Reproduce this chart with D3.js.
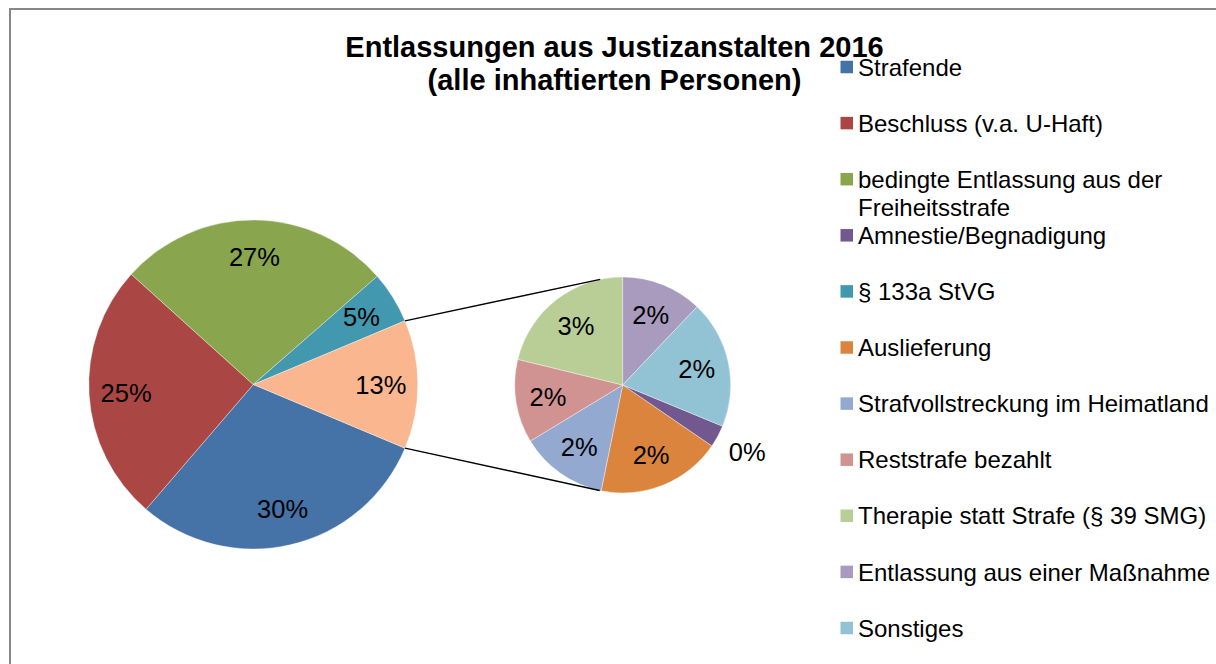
<!DOCTYPE html>
<html>
<head>
<meta charset="utf-8">
<script src="https://cdn.jsdelivr.net/npm/d3@7"></script>
<style>
  html, body { margin: 0; padding: 0; background: #fff; }
  svg { display: block; font-family: "Liberation Sans", Arial, Helvetica, sans-serif; }
</style>
</head>
<body>
<svg id="chart" width="1216" height="664"></svg>
<script>
// Releases from prisons 2016, shares in percent (all inmates)
const categories = [
  "Strafende",
  "Beschluss (v.a. U-Haft)",
  "bedingte Entlassung aus der Freiheitsstrafe",
  "Amnestie/Begnadigung",
  "§ 133a StVG",
  "Auslieferung",
  "Strafvollstreckung im Heimatland",
  "Reststrafe bezahlt",
  "Therapie statt Strafe (§ 39 SMG)",
  "Entlassung aus einer Maßnahme",
  "Sonstiges"
];
const shares = [30.0, 25.4, 26.9, 0.42, 5.1, 2.36, 1.66, 1.58, 2.68, 1.53, 2.42];
// which categories are broken out into the secondary pie
const inSecondPlot = [false, false, false, true, false, true, true, true, true, true, true];
const sliceColors = [
  "#4572A7", "#AA4643", "#89A54E", "#71588F", "#4198AF", "#DB843D",
  "#93A9CF", "#D19392", "#B9CD96", "#A99BBD", "#92C3D4"
];
const otherColor = "#F9B68F";
const titleLines = ["Entlassungen aus Justizanstalten 2016", "(alle inhaftierten Personen)"];

const svg = d3.select("#chart");
const total = d3.sum(shares);
const pctLabel = v => Math.round(v / total * 100) + "%";

const items = categories.map((c, i) => ({ name: c, value: shares[i], color: sliceColors[i], second: inSecondPlot[i] }));
const secondItems = items.filter(d => d.second);
const otherValue = d3.sum(secondItems, d => d.value);
const primaryItems = items.filter(d => !d.second).concat([{ name: "Other", value: otherValue, color: otherColor }]);

// chart frame
svg.append("rect")
  .attr("x", 10).attr("y", 9)
  .attr("width", 1230).attr("height", 680)
  .attr("fill", "#fff").attr("stroke", "#878787").attr("stroke-width", 2);

// geometry
const main = { cx: 253.3, cy: 384.5, r: 164.5 };
const sub = { cx: 622.7, cy: 385, r: 108 };

// primary pie: the combined slice sits centred on the right side
const otherAngle = 2 * Math.PI * otherValue / total;
const mainStart = Math.PI / 2 + otherAngle / 2;
const mainPie = d3.pie().sort(null).value(d => d.value)
  .startAngle(mainStart).endAngle(mainStart + 2 * Math.PI);
const mainArcs = mainPie(primaryItems);

// secondary pie: the first five broken-out slices end at twelve o'clock
const firstFive = d3.sum(secondItems.slice(0, 5), d => d.value);
const subStart = 2 * Math.PI - 2 * Math.PI * firstFive / otherValue;
const subPie = d3.pie().sort(null).value(d => d.value)
  .startAngle(subStart).endAngle(subStart + 2 * Math.PI);
const subArcs = subPie(secondItems);

const mainArc = d3.arc().innerRadius(0).outerRadius(main.r);
const subArc = d3.arc().innerRadius(0).outerRadius(sub.r);

const gMain = svg.append("g").attr("transform", `translate(${main.cx},${main.cy})`);
gMain.selectAll("path").data(mainArcs).join("path")
  .attr("d", mainArc)
  .attr("fill", d => d.data.color)
  .attr("stroke", "#fff").attr("stroke-opacity", 0.6).attr("stroke-width", 0.6);

const gSub = svg.append("g").attr("transform", `translate(${sub.cx},${sub.cy})`);
gSub.selectAll("path").data(subArcs).join("path")
  .attr("d", subArc)
  .attr("fill", d => d.data.color)
  .attr("stroke", "#fff").attr("stroke-opacity", 0.6).attr("stroke-width", 0.6);

// connector lines: from the edges of the combined slice, tangent to the secondary pie
function pointOn(c, a) { return [c.cx + c.r * Math.sin(a), c.cy - c.r * Math.cos(a)]; }
function tangentPoint(p, c, upper) {
  const vx = p[0] - c.cx, vy = p[1] - c.cy;
  const d = Math.hypot(vx, vy);
  const th = Math.atan2(vy, vx), ph = Math.acos(c.r / d);
  const a = upper ? th + ph : th - ph;
  return [c.cx + c.r * Math.cos(a), c.cy + c.r * Math.sin(a)];
}
const otherArc = mainArcs[mainArcs.length - 1];
const pTop = pointOn(main, otherArc.startAngle);
const pBottom = pointOn(main, otherArc.endAngle);
const connectors = [[pTop, tangentPoint(pTop, sub, true)], [pBottom, tangentPoint(pBottom, sub, false)]];
svg.selectAll("line.connector").data(connectors).join("line")
  .attr("class", "connector")
  .attr("x1", d => d[0][0]).attr("y1", d => d[0][1])
  .attr("x2", d => d[1][0]).attr("y2", d => d[1][1])
  .attr("stroke", "#000").attr("stroke-width", 1.5);

// data labels
const labelSize = 25.5;
const mainLabelArc = d3.arc().innerRadius(main.r * 0.775).outerRadius(main.r * 0.775);
gMain.selectAll("text").data(mainArcs).join("text")
  .attr("transform", d => `translate(${mainLabelArc.centroid(d)})`)
  .attr("text-anchor", "middle").attr("dy", "0.36em")
  .attr("font-size", labelSize).attr("fill", "#000")
  .text(d => pctLabel(d.data.value));

const subLabelIn = d3.arc().innerRadius(sub.r * 0.7).outerRadius(sub.r * 0.7);
const subLabelOut = d3.arc().innerRadius(sub.r * 1.31).outerRadius(sub.r * 1.31);
gSub.selectAll("text").data(subArcs).join("text")
  .attr("transform", d => {
    const a = (d.endAngle - d.startAngle) < 0.35 ? subLabelOut : subLabelIn;
    return `translate(${a.centroid(d)})`;
  })
  .attr("text-anchor", "middle").attr("dy", "0.36em")
  .attr("font-size", labelSize).attr("fill", "#000")
  .text(d => pctLabel(d.data.value));

// title
svg.append("text")
  .attr("x", 614.5).attr("y", 56.5)
  .attr("text-anchor", "middle").attr("font-size", 29).attr("font-weight", "bold")
  .selectAll("tspan").data(titleLines).join("tspan")
  .attr("x", 614.5).attr("dy", (d, i) => i === 0 ? 0 : 33.5)
  .text(d => d);

// legend
const legend = { x: 840.5, y0: 67, step: 56.1, box: 12.5, textX: 858, size: 24, lineH: 28.3, maxW: 356 };
const lg = svg.append("g");
items.forEach((d, i) => {
  const cy = legend.y0 + i * legend.step;
  lg.append("rect")
    .attr("x", legend.x).attr("y", cy - legend.box / 2)
    .attr("width", legend.box).attr("height", legend.box)
    .attr("fill", d.color);
  const t = lg.append("text")
    .attr("x", legend.textX).attr("y", cy + 8.6)
    .attr("font-size", legend.size).attr("fill", "#000");
  // word wrap to the legend width
  const words = d.name.split(" ");
  let line = [], tspan = t.append("tspan").attr("x", legend.textX).attr("dy", 0);
  words.forEach(w => {
    line.push(w);
    tspan.text(line.join(" "));
    if (tspan.node().getComputedTextLength() > legend.maxW && line.length > 1) {
      line.pop();
      tspan.text(line.join(" "));
      line = [w];
      tspan = t.append("tspan").attr("x", legend.textX).attr("dy", legend.lineH).text(w);
    }
  });
});
</script>
</body>
</html>
